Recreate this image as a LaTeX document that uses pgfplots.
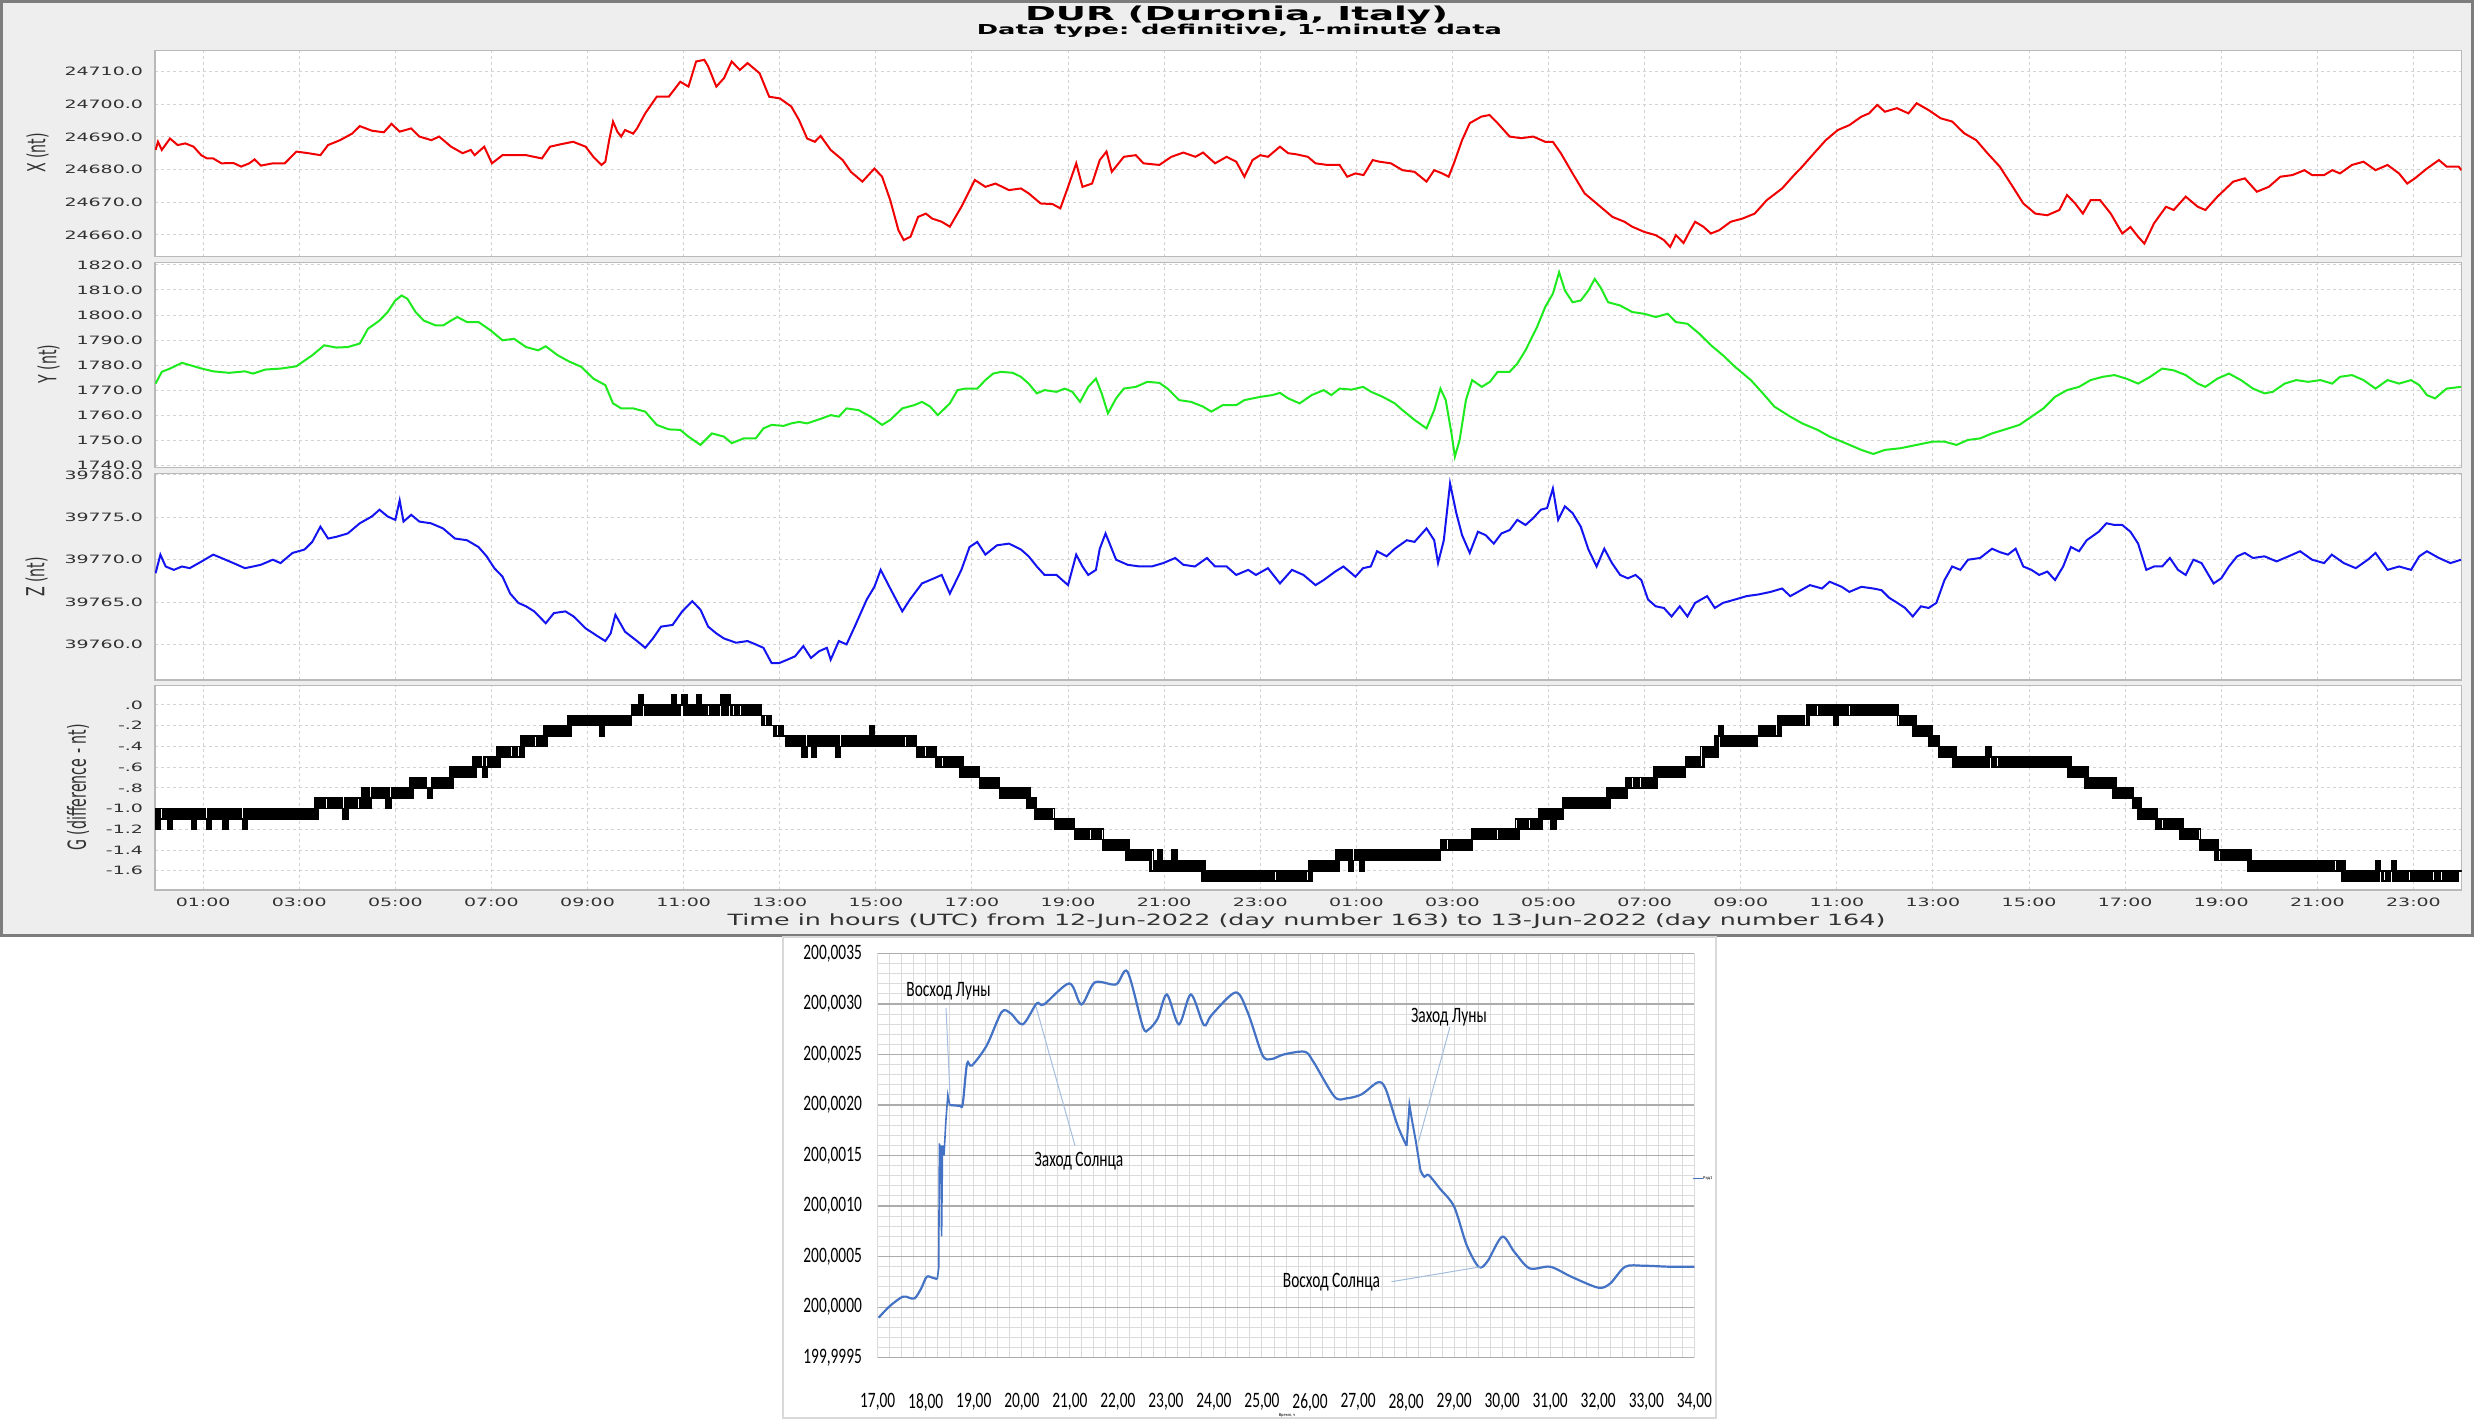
\documentclass[border=0pt]{standalone}
\usepackage{pgfplots}
\pgfplotsset{compat=1.18}
\usepackage{pgfplotstable}
\usepackage{graphicx}
\usepackage{fontspec}
\setmainfont{DejaVu Sans}
\newfontfamily\carlito{Carlito}
\definecolor{bgray}{RGB}{238,238,238}
\definecolor{frm}{RGB}{125,125,125}
\definecolor{xred}{RGB}{240,0,0}
\definecolor{ygreen}{RGB}{30,235,30}
\definecolor{zblue}{RGB}{20,20,240}
\definecolor{xlblue}{RGB}{68,114,196}
\definecolor{lead}{RGB}{165,190,222}
\definecolor{tickc}{RGB}{50,50,50}
\pgfplotsset{
  dur/.style={
    scale only axis, width=2306.4pt, xmin=0, xmax=48, anchor=south west,
    xtick={1,3,...,47}, xticklabels={}, scaled y ticks=false, scaled x ticks=false,
    grid=major, grid style={draw=gray!35, line width=1pt, dash pattern=on 3pt off 3pt},
    axis line style={draw=gray!55, line width=1.5pt},
    major tick length=0pt,
    axis background/.style={fill=white},
    yticklabel style={font=\fontsize{11.5}{12}\selectfont, text=tickc, inner sep=0pt, anchor=east, xshift=-11.8pt, xscale=1.65},
    xticklabel style={font=\fontsize{11.5}{12}\selectfont, text=tickc, inner sep=0pt, anchor=north, yshift=-8pt, xscale=1.65},
  }
}
\pgfplotstableread[row sep=\\]{
x y\\
0.00 -1.0\\ 0.05 -1.2\\ 0.08 -1.1\\ 0.15 -1.0\\ 0.25 -1.1\\ 0.3 -1.2\\ 0.33 -1.0\\ 0.42 -1.1\\ 0.5 -1.0\\ 0.6 -1.1\\ 0.7 -1.0\\ 0.8 -1.2\\ 0.83 -1.1\\ 0.9 -1.0\\ 1.0 -1.1\\ 1.1 -1.2\\ 1.13 -1.0\\ 1.22 -1.1\\ 1.3 -1.0\\ 1.4 -1.1\\ 1.45 -1.2\\ 1.48 -1.0\\ 1.55 -1.1\\ 1.65 -1.0\\ 1.75 -1.1\\ 1.85 -1.2\\ 1.88 -1.0\\ 1.95 -1.1\\ 2.05 -1.0\\ 2.15 -1.1\\ 2.25 -1.0\\ 2.35 -1.1\\ 2.45 -1.0\\ 2.55 -1.1\\ 2.65 -1.0\\ 2.75 -1.1\\ 2.85 -1.0\\ 2.95 -1.1\\ 3.05 -1.0\\ 3.15 -1.1\\ 3.25 -1.0\\ 3.3 -1.1\\
3.36 -0.9\\ 3.45 -1.0\\ 3.55 -0.9\\ 3.65 -1.0\\ 3.75 -0.9\\ 3.85 -1.0\\ 3.95 -1.1\\ 3.98 -0.9\\ 4.05 -1.0\\ 4.15 -0.9\\ 4.25 -1.0\\
4.34 -0.8\\ 4.43 -1.0\\ 4.46 -0.9\\ 4.55 -0.8\\ 4.65 -0.9\\ 4.75 -0.8\\ 4.84 -1.0\\ 4.87 -0.9\\ 4.95 -0.8\\ 5.05 -0.9\\ 5.15 -0.8\\ 5.25 -0.9\\
5.33 -0.7\\ 5.42 -0.8\\ 5.5 -0.7\\ 5.6 -0.8\\ 5.7 -0.9\\ 5.73 -0.8\\ 5.8 -0.7\\ 5.9 -0.8\\ 6.0 -0.7\\ 6.08 -0.8\\
6.16 -0.6\\ 6.25 -0.7\\ 6.35 -0.6\\ 6.45 -0.7\\ 6.55 -0.6\\ 6.6 -0.7\\
6.65 -0.5\\ 6.75 -0.6\\ 6.85 -0.7\\ 6.88 -0.5\\ 6.95 -0.6\\ 7.05 -0.5\\ 7.1 -0.6\\
7.14 -0.4\\ 7.22 -0.5\\ 7.3 -0.4\\ 7.4 -0.5\\ 7.5 -0.4\\ 7.58 -0.5\\
7.64 -0.3\\ 7.72 -0.4\\ 7.8 -0.3\\ 7.9 -0.4\\ 8.0 -0.3\\ 8.07 -0.4\\
8.13 -0.2\\ 8.22 -0.3\\ 8.3 -0.2\\ 8.4 -0.3\\ 8.5 -0.2\\ 8.57 -0.3\\
8.63 -0.1\\ 8.72 -0.2\\ 8.8 -0.1\\ 8.9 -0.2\\ 9.0 -0.1\\ 9.1 -0.2\\ 9.2 -0.1\\ 9.29 -0.3\\ 9.32 -0.1\\ 9.4 -0.2\\ 9.5 -0.1\\ 9.6 -0.2\\ 9.7 -0.1\\ 9.8 -0.2\\ 9.88 -0.1\\
9.95 0.0\\ 10.05 -0.1\\ 10.1 0.1\\ 10.13 0.0\\ 10.22 -0.1\\ 10.3 0.0\\ 10.4 -0.1\\ 10.5 0.0\\ 10.6 -0.1\\ 10.7 0.0\\ 10.78 0.1\\ 10.81 -0.1\\ 10.9 0.0\\ 11.0 0.1\\ 11.03 -0.1\\ 11.1 0.0\\ 11.2 -0.1\\ 11.3 0.1\\ 11.33 0.0\\ 11.42 -0.1\\ 11.5 0.0\\ 11.6 -0.1\\ 11.7 0.0\\ 11.8 0.1\\ 11.83 -0.1\\ 11.9 0.1\\ 11.93 0.0\\ 12.02 -0.1\\ 12.1 0.0\\ 12.2 -0.1\\ 12.3 0.0\\ 12.4 -0.1\\ 12.5 0.0\\
12.58 -0.1\\ 12.65 -0.2\\ 12.72 -0.1\\ 12.78 -0.2\\
12.83 -0.2\\ 12.9 -0.3\\ 12.97 -0.2\\ 13.03 -0.3\\
13.08 -0.3\\ 13.17 -0.4\\ 13.25 -0.3\\ 13.35 -0.4\\ 13.45 -0.3\\ 13.5 -0.5\\ 13.53 -0.4\\ 13.62 -0.3\\ 13.7 -0.5\\ 13.73 -0.3\\ 13.82 -0.4\\ 13.9 -0.3\\ 14.0 -0.4\\ 14.1 -0.3\\ 14.2 -0.5\\ 14.23 -0.4\\ 14.32 -0.3\\ 14.4 -0.4\\ 14.5 -0.3\\ 14.6 -0.4\\ 14.7 -0.3\\ 14.8 -0.4\\ 14.9 -0.2\\ 14.93 -0.3\\ 15.0 -0.4\\ 15.1 -0.3\\ 15.2 -0.4\\ 15.3 -0.3\\ 15.4 -0.4\\ 15.5 -0.3\\ 15.6 -0.4\\ 15.7 -0.3\\ 15.8 -0.4\\
15.88 -0.5\\ 15.96 -0.4\\ 16.05 -0.5\\ 16.13 -0.4\\ 16.22 -0.5\\
16.29 -0.6\\ 16.37 -0.5\\ 16.45 -0.6\\ 16.55 -0.5\\ 16.65 -0.6\\ 16.72 -0.5\\
16.78 -0.7\\ 16.86 -0.6\\ 16.95 -0.7\\ 17.05 -0.6\\ 17.12 -0.7\\
17.19 -0.8\\ 17.27 -0.7\\ 17.35 -0.8\\ 17.45 -0.7\\ 17.53 -0.8\\
17.61 -0.9\\ 17.7 -0.8\\ 17.8 -0.9\\ 17.9 -0.8\\ 18.0 -0.9\\ 18.1 -0.8\\
18.18 -1.0\\ 18.25 -0.9\\ 18.3 -1.0\\
18.35 -1.1\\ 18.42 -1.0\\ 18.5 -1.1\\ 18.6 -1.0\\ 18.68 -1.1\\
18.76 -1.2\\ 18.84 -1.1\\ 18.92 -1.2\\ 19.0 -1.1\\ 19.1 -1.2\\
19.17 -1.3\\ 19.25 -1.2\\ 19.35 -1.3\\ 19.45 -1.2\\ 19.55 -1.3\\ 19.65 -1.2\\ 19.7 -1.3\\
19.75 -1.4\\ 19.83 -1.3\\ 19.92 -1.4\\ 20.0 -1.3\\ 20.1 -1.4\\ 20.18 -1.3\\
20.24 -1.5\\ 20.32 -1.4\\ 20.42 -1.5\\ 20.5 -1.4\\ 20.6 -1.5\\ 20.68 -1.4\\
20.74 -1.6\\ 20.82 -1.5\\ 20.9 -1.4\\ 20.93 -1.6\\ 21.0 -1.5\\ 21.1 -1.6\\ 21.2 -1.4\\ 21.23 -1.5\\ 21.3 -1.6\\ 21.4 -1.5\\ 21.5 -1.6\\ 21.6 -1.5\\ 21.7 -1.6\\ 21.76 -1.5\\
21.81 -1.7\\ 21.9 -1.6\\ 22.0 -1.7\\ 22.1 -1.6\\ 22.2 -1.7\\ 22.3 -1.6\\ 22.4 -1.7\\ 22.5 -1.6\\ 22.6 -1.7\\ 22.7 -1.6\\ 22.8 -1.7\\ 22.9 -1.6\\ 23.0 -1.7\\ 23.1 -1.6\\ 23.2 -1.7\\ 23.3 -1.6\\ 23.4 -1.7\\ 23.5 -1.6\\ 23.6 -1.7\\ 23.7 -1.6\\ 23.8 -1.7\\ 23.9 -1.6\\ 24.0 -1.7\\
24.05 -1.5\\ 24.12 -1.6\\ 24.2 -1.5\\ 24.3 -1.6\\ 24.4 -1.5\\ 24.5 -1.6\\ 24.6 -1.4\\ 24.68 -1.5\\ 24.78 -1.4\\ 24.88 -1.6\\ 24.91 -1.5\\ 25.0 -1.4\\ 25.1 -1.6\\ 25.13 -1.4\\ 25.22 -1.5\\ 25.32 -1.4\\ 25.42 -1.5\\ 25.52 -1.4\\ 25.62 -1.5\\ 25.72 -1.4\\ 25.82 -1.5\\ 25.92 -1.4\\ 26.02 -1.5\\ 26.12 -1.4\\ 26.22 -1.5\\ 26.32 -1.4\\ 26.42 -1.5\\ 26.52 -1.4\\ 26.62 -1.5\\ 26.72 -1.4\\
26.8 -1.3\\ 26.88 -1.4\\ 26.97 -1.3\\ 27.07 -1.4\\ 27.17 -1.3\\ 27.27 -1.4\\ 27.37 -1.3\\
27.44 -1.2\\ 27.52 -1.3\\ 27.62 -1.2\\ 27.72 -1.3\\ 27.82 -1.2\\ 27.92 -1.3\\ 28.02 -1.2\\ 28.12 -1.3\\ 28.22 -1.2\\ 28.3 -1.3\\
28.35 -1.1\\ 28.43 -1.2\\ 28.52 -1.1\\ 28.62 -1.2\\ 28.72 -1.1\\ 28.8 -1.2\\
28.84 -1.0\\ 28.92 -1.1\\ 29.0 -1.0\\ 29.09 -1.2\\ 29.12 -1.0\\ 29.2 -1.1\\ 29.28 -1.0\\
29.34 -0.9\\ 29.42 -1.0\\ 29.52 -0.9\\ 29.62 -1.0\\ 29.72 -0.9\\ 29.82 -1.0\\ 29.92 -0.9\\ 30.02 -1.0\\ 30.12 -0.9\\ 30.2 -1.0\\
30.24 -0.8\\ 30.32 -0.9\\ 30.42 -0.8\\ 30.52 -0.9\\ 30.6 -0.8\\
30.65 -0.7\\ 30.73 -0.8\\ 30.83 -0.7\\ 30.93 -0.8\\ 31.03 -0.7\\ 31.13 -0.8\\
31.23 -0.6\\ 31.31 -0.7\\ 31.41 -0.6\\ 31.51 -0.7\\ 31.61 -0.6\\ 31.71 -0.7\\ 31.81 -0.6\\
31.89 -0.5\\ 31.97 -0.6\\ 32.05 -0.5\\ 32.13 -0.6\\
32.2 -0.4\\ 32.28 -0.5\\ 32.36 -0.4\\ 32.44 -0.5\\
32.5 -0.3\\ 32.58 -0.2\\ 32.61 -0.4\\ 32.7 -0.3\\ 32.8 -0.4\\ 32.9 -0.3\\ 33.0 -0.4\\ 33.1 -0.3\\ 33.2 -0.4\\ 33.3 -0.3\\
33.4 -0.2\\ 33.48 -0.3\\ 33.58 -0.2\\ 33.68 -0.3\\
33.8 -0.1\\ 33.88 -0.2\\ 33.98 -0.1\\ 34.08 -0.2\\ 34.18 -0.1\\ 34.28 -0.2\\
34.4 0.0\\ 34.48 -0.1\\ 34.58 0.0\\ 34.68 -0.1\\ 34.78 0.0\\ 34.88 -0.1\\ 34.97 -0.2\\ 35.0 0.0\\ 35.08 -0.1\\ 35.18 0.0\\ 35.28 -0.1\\ 35.38 0.0\\ 35.48 -0.1\\ 35.58 0.0\\ 35.68 -0.1\\ 35.78 0.0\\ 35.88 -0.1\\ 35.98 0.0\\ 36.08 -0.1\\ 36.18 0.0\\ 36.25 -0.1\\
36.3 -0.2\\ 36.38 -0.1\\ 36.47 -0.2\\ 36.55 -0.1\\
36.62 -0.3\\ 36.7 -0.2\\ 36.78 -0.3\\ 36.87 -0.2\\
36.95 -0.4\\ 37.03 -0.3\\ 37.1 -0.4\\
37.15 -0.5\\ 37.23 -0.4\\ 37.32 -0.5\\ 37.4 -0.4\\
37.45 -0.6\\ 37.55 -0.5\\ 37.65 -0.6\\ 37.75 -0.5\\ 37.85 -0.6\\ 37.95 -0.5\\ 38.05 -0.6\\ 38.14 -0.4\\ 38.17 -0.5\\ 38.26 -0.6\\ 38.36 -0.5\\ 38.46 -0.6\\ 38.56 -0.5\\ 38.66 -0.6\\ 38.76 -0.5\\ 38.86 -0.6\\ 38.96 -0.5\\ 39.06 -0.6\\ 39.16 -0.5\\ 39.26 -0.6\\ 39.36 -0.5\\ 39.46 -0.6\\ 39.56 -0.5\\ 39.66 -0.6\\ 39.76 -0.5\\
39.85 -0.7\\ 39.93 -0.6\\ 40.02 -0.7\\ 40.1 -0.6\\
40.2 -0.8\\ 40.28 -0.7\\ 40.38 -0.8\\ 40.48 -0.7\\ 40.58 -0.8\\ 40.68 -0.7\\
40.78 -0.9\\ 40.86 -0.8\\ 40.95 -0.9\\ 41.05 -0.8\\ 41.13 -0.9\\
41.19 -1.0\\ 41.25 -0.9\\
41.3 -1.1\\ 41.38 -1.0\\ 41.47 -1.1\\ 41.56 -1.0\\ 41.63 -1.1\\
41.68 -1.2\\ 41.76 -1.1\\ 41.85 -1.2\\ 41.95 -1.1\\ 42.05 -1.2\\ 42.13 -1.1\\
42.18 -1.3\\ 42.26 -1.2\\ 42.35 -1.3\\ 42.45 -1.2\\ 42.53 -1.3\\
42.59 -1.4\\ 42.67 -1.3\\ 42.76 -1.4\\ 42.84 -1.3\\
42.9 -1.5\\ 42.98 -1.4\\ 43.07 -1.5\\ 43.17 -1.4\\ 43.27 -1.5\\ 43.37 -1.4\\ 43.47 -1.5\\ 43.54 -1.4\\
43.58 -1.6\\ 43.66 -1.5\\ 43.76 -1.6\\ 43.86 -1.5\\ 43.96 -1.6\\ 44.06 -1.5\\ 44.16 -1.6\\ 44.26 -1.5\\ 44.36 -1.6\\ 44.46 -1.5\\ 44.56 -1.6\\ 44.66 -1.5\\ 44.76 -1.6\\ 44.86 -1.5\\ 44.96 -1.6\\ 45.06 -1.5\\ 45.16 -1.6\\ 45.26 -1.5\\ 45.36 -1.6\\ 45.46 -1.5\\
45.55 -1.7\\ 45.65 -1.6\\ 45.75 -1.7\\ 45.85 -1.6\\ 45.95 -1.7\\ 46.05 -1.6\\ 46.15 -1.7\\ 46.25 -1.5\\ 46.28 -1.6\\ 46.38 -1.7\\ 46.48 -1.6\\ 46.58 -1.5\\ 46.61 -1.7\\ 46.7 -1.6\\ 46.8 -1.7\\ 46.9 -1.6\\ 47.0 -1.7\\ 47.1 -1.6\\ 47.2 -1.7\\ 47.3 -1.6\\ 47.4 -1.7\\ 47.5 -1.6\\ 47.6 -1.7\\ 47.7 -1.6\\ 47.8 -1.7\\ 47.9 -1.6\\ 48.0 -1.6\\
}\Gdata
\begin{document}
\begin{tikzpicture}
\fill[white] (0pt,0pt) rectangle (2477pt,-1420pt);
\draw[frm, line width=3pt, fill=bgray] (1.5pt,-1.5pt) rectangle (2472.5pt,-935pt);
\draw[gray!30, line width=1.5pt, fill=white] (783pt,-937pt) rectangle (1716pt,-1418pt);

% titles
\node[anchor=base, inner sep=0pt] at (1236.6pt,-20.7pt) {\resizebox{423pt}{\height}{\fontsize{19.2}{20}\selectfont\bfseries DUR (Duronia, Italy)}};
\node[anchor=base, inner sep=0pt] at (1239.4pt,-34.3pt) {\resizebox{525pt}{\height}{\fontsize{13.7}{14}\selectfont\bfseries Data type: definitive, 1-minute data}};
\node[anchor=base, inner sep=0pt, text=tickc] at (1306.5pt,-925.7pt) {\resizebox{1158pt}{\height}{\fontsize{15.5}{16}\selectfont Time in hours (UTC) from 12-Jun-2022 (day number 163) to 13-Jun-2022 (day number 164)}};
\node[inner sep=0pt, text=tickc] at (37.5pt,-153pt) {\scalebox{1.75}[1]{\rotatebox{90}{\fontsize{14.2}{15}\selectfont X (nt)}}};
\node[inner sep=0pt, text=tickc] at (48.5pt,-364pt) {\scalebox{1.75}[1]{\rotatebox{90}{\fontsize{14.2}{15}\selectfont Y (nt)}}};
\node[inner sep=0pt, text=tickc] at (36.5pt,-577pt) {\scalebox{1.75}[1]{\rotatebox{90}{\fontsize{14.2}{15}\selectfont Z (nt)}}};
\node[inner sep=0pt, text=tickc] at (78pt,-787.5pt) {\scalebox{1.75}[1]{\rotatebox{90}{\fontsize{14.2}{15}\selectfont G (difference - nt)}}};

% ---------------- X panel
\begin{axis}[dur, at={(155.1pt,-256.7pt)}, height=206pt, ymin=24653.3, ymax=24716.4,
  ytick={24660,24670,24680,24690,24700,24710},
  yticklabels={24660.0,24670.0,24680.0,24690.0,24700.0,24710.0}]
\addplot[xred, line width=2pt] coordinates {
(0.01,24686.0)(0.06,24688.5)(0.14,24686.0)(0.31,24689.5)(0.47,24687.5)(0.63,24688.0)(0.80,24687.0)(0.96,24684.4)
(1.08,24683.4)(1.21,24683.4)(1.38,24681.9)(1.63,24682.0)(1.79,24680.9)(1.96,24681.9)(2.07,24683.1)(2.20,24681.2)
(2.45,24681.9)(2.70,24681.9)(2.94,24685.5)(3.19,24685.0)(3.44,24684.4)(3.60,24687.5)(3.85,24689.0)(4.10,24691.0)
(4.26,24693.3)(4.51,24691.9)(4.76,24691.4)(4.92,24694.0)(5.09,24691.6)(5.33,24692.6)(5.50,24690.1)(5.75,24689.0)
(5.91,24690.1)(6.16,24687.0)(6.40,24685.0)(6.57,24686.0)(6.65,24684.4)(6.85,24687.0)(7.01,24681.9)(7.23,24684.4)
(7.47,24684.4)(7.72,24684.4)(8.05,24683.4)(8.22,24687.0)(8.46,24687.8)(8.70,24688.5)(8.96,24687.0)(9.12,24683.9)
(9.29,24681.4)(9.37,24682.4)(9.45,24689.0)(9.53,24694.7)(9.62,24691.6)(9.70,24690.1)(9.78,24692.1)(9.95,24691.0)
(10.03,24692.6)(10.20,24697.2)(10.44,24702.3)(10.69,24702.3)(10.93,24706.9)(11.10,24705.4)(11.26,24713.1)(11.43,24713.6)
(11.51,24711.6)(11.68,24705.4)(11.84,24708.0)(12.00,24713.1)(12.17,24710.5)(12.33,24712.6)(12.58,24709.5)(12.78,24702.3)
(13.00,24701.8)(13.24,24699.3)(13.40,24695.2)(13.57,24689.5)(13.73,24688.5)(13.85,24690.3)(14.06,24686.0)(14.31,24682.9)
(14.48,24679.3)(14.72,24676.3)(14.97,24680.3)(15.13,24677.8)(15.30,24670.6)(15.47,24661.4)(15.58,24658.4)(15.72,24659.4)
(15.88,24665.5)(16.04,24666.5)(16.17,24665.0)(16.37,24664.0)(16.54,24662.5)(16.78,24668.6)(17.06,24676.8)(17.28,24674.7)
(17.49,24675.7)(17.77,24673.7)(18.02,24674.2)(18.18,24672.7)(18.43,24669.6)(18.68,24669.4)(18.84,24668.1)(19.00,24674.7)
(19.17,24681.9)(19.30,24674.7)(19.50,24675.7)(19.66,24682.9)(19.80,24685.5)(19.91,24679.3)(20.16,24683.9)(20.41,24684.4)
(20.57,24681.9)(20.90,24681.4)(21.15,24683.9)(21.40,24685.2)(21.65,24683.9)(21.81,24685.2)(22.06,24681.9)(22.30,24683.9)
(22.50,24682.4)(22.67,24677.8)(22.84,24682.9)(23.00,24684.4)(23.16,24683.9)(23.41,24687.0)(23.58,24685.0)(23.74,24684.7)
(23.99,24683.9)(24.15,24681.9)(24.40,24681.4)(24.65,24681.4)(24.81,24677.8)(24.98,24678.8)(25.15,24678.3)(25.34,24682.9)
(25.48,24682.4)(25.72,24681.9)(25.96,24679.8)(26.21,24679.3)(26.46,24676.3)(26.62,24679.8)(26.79,24678.8)(26.92,24677.8)
(27.03,24681.9)(27.20,24689.0)(27.36,24694.2)(27.60,24696.2)(27.77,24696.7)(27.94,24694.2)(28.19,24690.1)(28.43,24689.6)
(28.68,24690.1)(28.93,24688.5)(29.09,24688.5)(29.26,24684.9)(29.50,24678.8)(29.75,24672.7)(30.08,24668.6)(30.33,24665.5)
(30.58,24664.0)(30.74,24662.5)(30.99,24660.9)(31.23,24659.9)(31.40,24658.4)(31.53,24656.3)(31.65,24659.9)(31.81,24657.5)
(31.93,24660.9)(32.05,24664.0)(32.22,24662.5)(32.38,24660.4)(32.55,24661.4)(32.79,24664.0)(33.04,24665.0)(33.29,24666.5)
(33.54,24670.6)(33.86,24674.2)(34.11,24678.3)(34.28,24680.9)(34.52,24684.9)(34.77,24689.0)(35.02,24692.1)(35.26,24693.6)
(35.51,24696.2)(35.67,24697.2)(35.84,24699.8)(36.00,24697.7)(36.25,24698.8)(36.49,24697.2)(36.66,24700.3)(36.91,24698.2)
(37.16,24695.7)(37.40,24694.7)(37.65,24691.1)(37.90,24689.0)(38.14,24684.9)(38.39,24680.9)(38.64,24675.2)(38.88,24669.6)
(39.13,24666.5)(39.38,24666.0)(39.63,24667.6)(39.79,24672.2)(39.96,24669.6)(40.12,24666.5)(40.28,24670.6)(40.48,24670.6)
(40.70,24666.5)(40.94,24660.4)(41.11,24662.4)(41.27,24659.4)(41.40,24657.3)(41.60,24663.5)(41.85,24668.6)(42.01,24667.6)
(42.26,24671.7)(42.51,24668.6)(42.67,24667.6)(42.92,24671.7)(43.25,24676.3)(43.49,24677.3)(43.74,24673.2)(43.99,24674.7)
(44.23,24677.8)(44.48,24678.3)(44.73,24679.8)(44.89,24678.3)(45.14,24678.3)(45.31,24679.8)(45.47,24678.8)(45.72,24681.4)
(45.96,24682.4)(46.21,24679.8)(46.46,24681.4)(46.70,24678.8)(46.87,24675.7)(47.03,24677.3)(47.28,24680.3)(47.53,24682.9)
(47.69,24680.9)(47.94,24680.9)(48.00,24679.8)};
\end{axis}

% ---------------- Y panel
\begin{axis}[dur, at={(155.1pt,-467.7pt)}, height=205pt, ymin=1739.0, ymax=1820.9,
  ytick={1740,1750,1760,1770,1780,1790,1800,1810,1820},
  yticklabels={1740.0,1750.0,1760.0,1770.0,1780.0,1790.0,1800.0,1810.0,1820.0}]
\addplot[ygreen, line width=2pt] coordinates {
(0.01,1772.6)(0.14,1777.3)(0.31,1778.6)(0.56,1780.9)(0.72,1780.0)(0.97,1778.6)(1.21,1777.5)(1.54,1776.9)
(1.87,1777.5)(2.04,1776.6)(2.29,1778.2)(2.61,1778.6)(2.94,1779.5)(3.02,1780.6)(3.27,1783.9)(3.52,1787.9)
(3.77,1787.0)(4.01,1787.2)(4.26,1788.6)(4.43,1794.5)(4.67,1797.8)(4.84,1801.2)(5.00,1805.8)(5.13,1807.8)
(5.25,1806.5)(5.42,1801.2)(5.59,1797.8)(5.83,1795.9)(6.00,1795.9)(6.16,1797.8)(6.29,1799.2)(6.49,1797.2)
(6.73,1797.2)(6.98,1793.9)(7.23,1789.9)(7.47,1790.5)(7.72,1787.2)(7.97,1785.9)(8.13,1787.5)(8.38,1783.9)
(8.63,1781.3)(8.87,1779.3)(9.12,1774.6)(9.37,1772.0)(9.53,1764.7)(9.70,1762.7)(9.95,1762.7)(10.20,1761.4)
(10.44,1756.1)(10.69,1754.3)(10.93,1754.1)(11.10,1751.4)(11.35,1748.1)(11.59,1752.7)(11.84,1751.4)(12.00,1748.8)
(12.25,1750.7)(12.50,1750.7)(12.66,1754.7)(12.83,1756.1)(13.08,1755.7)(13.24,1756.7)(13.40,1757.3)(13.57,1756.7)
(13.82,1758.3)(14.06,1760.0)(14.23,1759.4)(14.39,1762.7)(14.64,1762.0)(14.89,1759.4)(15.13,1756.1)(15.30,1758.1)
(15.55,1762.7)(15.80,1764.0)(15.96,1765.3)(16.13,1763.4)(16.29,1760.0)(16.54,1764.7)(16.70,1770.0)(16.86,1770.6)
(17.11,1770.6)(17.28,1774.0)(17.44,1776.6)(17.61,1777.3)(17.85,1776.9)(18.02,1775.3)(18.18,1772.6)(18.35,1768.7)
(18.51,1770.0)(18.76,1769.3)(18.93,1770.6)(19.09,1769.3)(19.25,1765.3)(19.42,1771.3)(19.58,1774.6)(19.70,1768.7)
(19.83,1760.7)(20.00,1766.7)(20.16,1770.6)(20.41,1771.3)(20.65,1773.3)(20.90,1772.9)(21.07,1770.6)(21.31,1766.0)
(21.56,1765.3)(21.81,1763.4)(21.98,1761.4)(22.22,1764.0)(22.50,1764.0)(22.67,1766.0)(23.00,1767.3)(23.25,1768.0)
(23.41,1768.9)(23.58,1766.7)(23.82,1764.7)(24.07,1768.0)(24.32,1770.0)(24.48,1768.0)(24.65,1770.6)(24.90,1770.2)
(25.14,1771.3)(25.31,1769.3)(25.55,1767.3)(25.80,1764.7)(25.96,1762.0)(26.21,1758.1)(26.46,1754.7)(26.62,1762.0)
(26.75,1770.6)(26.86,1766.0)(26.98,1752.7)(27.05,1743.4)(27.15,1750.1)(27.28,1766.0)(27.41,1774.0)(27.61,1771.3)
(27.78,1773.3)(27.94,1777.3)(28.19,1777.3)(28.35,1780.6)(28.52,1785.9)(28.76,1795.2)(28.93,1803.2)(29.09,1808.5)
(29.22,1817.1)(29.34,1809.8)(29.50,1805.1)(29.67,1805.8)(29.83,1809.8)(29.96,1814.4)(30.08,1811.1)(30.24,1805.1)
(30.49,1803.8)(30.74,1801.2)(30.99,1800.5)(31.23,1799.2)(31.48,1800.5)(31.65,1797.2)(31.89,1796.5)(32.14,1792.5)
(32.38,1787.9)(32.63,1783.9)(32.88,1779.3)(33.21,1774.0)(33.46,1768.7)(33.70,1763.4)(34.03,1759.4)(34.28,1756.7)
(34.60,1754.1)(34.85,1751.4)(35.18,1748.8)(35.51,1746.1)(35.76,1744.5)(36.00,1746.1)(36.33,1746.8)(36.66,1748.1)
(36.99,1749.4)(37.24,1749.4)(37.49,1748.1)(37.73,1750.1)(37.98,1750.7)(38.23,1752.7)(38.47,1754.1)(38.80,1756.1)
(39.05,1759.4)(39.30,1762.7)(39.54,1767.3)(39.79,1770.0)(40.04,1771.3)(40.28,1774.0)(40.53,1775.3)(40.78,1776.0)
(41.02,1774.6)(41.27,1772.6)(41.52,1775.3)(41.77,1778.6)(42.01,1777.9)(42.26,1776.0)(42.51,1772.6)(42.67,1771.3)
(42.92,1774.6)(43.16,1776.6)(43.41,1774.0)(43.66,1770.6)(43.90,1768.7)(44.07,1769.3)(44.32,1772.6)(44.56,1774.0)
(44.81,1773.3)(45.06,1774.0)(45.31,1772.6)(45.47,1775.3)(45.72,1776.0)(45.96,1774.0)(46.21,1770.6)(46.46,1774.0)
(46.70,1772.6)(46.95,1774.0)(47.12,1772.0)(47.28,1768.0)(47.45,1766.7)(47.69,1770.6)(47.99,1771.3)};
\end{axis}

% ---------------- Z panel
\begin{axis}[dur, at={(155.1pt,-680pt)}, height=206.7pt, ymin=39755.8, ymax=39780.2,
  ytick={39760,39765,39770,39775,39780},
  yticklabels={39760.0,39765.0,39770.0,39775.0,39780.0}]
\addplot[zblue, line width=2pt] coordinates {
(0.01,39768.4)(0.11,39770.6)(0.22,39769.2)(0.39,39768.8)(0.56,39769.2)(0.72,39769.0)(0.97,39769.8)(1.21,39770.6)
(1.38,39770.2)(1.63,39769.6)(1.87,39769.0)(2.04,39769.2)(2.20,39769.4)(2.45,39770.0)(2.61,39769.6)(2.86,39770.8)
(3.11,39771.2)(3.27,39772.1)(3.44,39773.9)(3.60,39772.5)(3.77,39772.7)(4.01,39773.1)(4.26,39774.3)(4.51,39775.1)
(4.67,39775.9)(4.84,39775.1)(5.00,39774.7)(5.09,39777.0)(5.17,39774.5)(5.33,39775.3)(5.50,39774.5)(5.74,39774.3)
(5.99,39773.7)(6.24,39772.5)(6.49,39772.3)(6.73,39771.5)(6.90,39770.4)(7.06,39769.0)(7.23,39768.0)(7.39,39766.0)
(7.56,39764.9)(7.72,39764.5)(7.89,39763.9)(8.13,39762.5)(8.30,39763.7)(8.54,39763.9)(8.71,39763.3)(8.96,39761.9)
(9.20,39761.0)(9.37,39760.4)(9.48,39761.3)(9.58,39763.5)(9.78,39761.5)(10.03,39760.4)(10.20,39759.6)(10.36,39760.7)
(10.53,39762.1)(10.77,39762.3)(10.97,39763.9)(11.18,39765.1)(11.35,39764.1)(11.51,39762.1)(11.68,39761.3)(11.84,39760.7)
(12.09,39760.2)(12.33,39760.4)(12.50,39760.0)(12.66,39759.6)(12.83,39757.8)(12.99,39757.8)(13.16,39758.2)(13.32,39758.6)
(13.49,39759.8)(13.65,39758.4)(13.82,39759.2)(13.98,39759.6)(14.06,39758.2)(14.23,39760.4)(14.39,39760.0)(14.56,39762.1)
(14.81,39765.3)(14.97,39766.8)(15.10,39768.8)(15.30,39766.6)(15.55,39763.9)(15.71,39765.3)(15.96,39767.2)(16.21,39767.8)
(16.37,39768.2)(16.54,39766.0)(16.78,39768.8)(16.95,39771.5)(17.11,39772.1)(17.28,39770.6)(17.52,39771.7)(17.77,39771.9)
(18.02,39771.2)(18.18,39770.4)(18.35,39769.2)(18.51,39768.2)(18.76,39768.2)(19.00,39767.0)(19.17,39770.6)(19.30,39769.2)
(19.42,39768.2)(19.58,39768.8)(19.66,39771.3)(19.78,39773.1)(20.00,39770.0)(20.24,39769.4)(20.49,39769.2)(20.74,39769.2)
(20.98,39769.6)(21.23,39770.2)(21.40,39769.4)(21.64,39769.2)(21.89,39770.2)(22.06,39769.2)(22.30,39769.2)(22.50,39768.2)
(22.75,39768.8)(22.91,39768.2)(23.16,39769.0)(23.41,39767.2)(23.66,39768.8)(23.90,39768.2)(24.15,39767.0)(24.32,39767.6)
(24.56,39768.6)(24.73,39769.2)(24.98,39768.0)(25.14,39769.0)(25.30,39769.2)(25.43,39771.0)(25.63,39770.4)(25.80,39771.3)
(26.05,39772.3)(26.21,39772.1)(26.46,39773.7)(26.62,39772.3)(26.70,39769.6)(26.82,39772.3)(26.95,39779.0)(27.08,39775.5)
(27.20,39772.9)(27.36,39770.8)(27.53,39773.3)(27.69,39772.9)(27.86,39771.9)(28.02,39773.1)(28.19,39773.5)(28.35,39774.7)
(28.52,39774.1)(28.68,39774.9)(28.84,39775.9)(28.97,39776.1)(29.09,39778.4)(29.20,39774.7)(29.34,39776.3)(29.50,39775.5)
(29.67,39773.9)(29.83,39771.2)(30.00,39769.2)(30.16,39771.3)(30.32,39769.6)(30.49,39768.2)(30.65,39767.8)(30.81,39768.2)
(30.93,39767.6)(31.07,39765.3)(31.23,39764.5)(31.40,39764.3)(31.56,39763.3)(31.73,39764.5)(31.89,39763.3)(32.05,39764.9)
(32.30,39765.7)(32.46,39764.3)(32.63,39764.9)(32.88,39765.3)(33.12,39765.7)(33.37,39765.9)(33.62,39766.2)(33.86,39766.6)
(34.03,39765.7)(34.19,39766.2)(34.44,39767.0)(34.69,39766.6)(34.85,39767.4)(35.10,39766.8)(35.26,39766.2)(35.51,39766.8)
(35.76,39766.6)(35.93,39766.4)(36.09,39765.5)(36.26,39764.9)(36.42,39764.3)(36.58,39763.3)(36.75,39764.5)(36.91,39764.3)
(37.07,39764.9)(37.24,39767.6)(37.40,39769.2)(37.57,39768.8)(37.73,39770.0)(37.98,39770.2)(38.23,39771.3)(38.39,39770.9)
(38.56,39770.6)(38.72,39771.3)(38.88,39769.2)(39.05,39768.8)(39.21,39768.2)(39.38,39768.6)(39.54,39767.6)(39.71,39769.2)
(39.87,39771.5)(40.04,39771.0)(40.20,39772.3)(40.45,39773.3)(40.61,39774.3)(40.78,39774.1)(40.94,39774.1)(41.11,39773.3)
(41.27,39771.9)(41.44,39768.8)(41.60,39769.2)(41.77,39769.2)(41.93,39770.2)(42.10,39768.8)(42.26,39768.2)(42.42,39770.0)
(42.59,39769.6)(42.84,39767.2)(43.00,39767.8)(43.16,39769.2)(43.33,39770.4)(43.49,39770.8)(43.66,39770.2)(43.90,39770.4)
(44.15,39769.8)(44.40,39770.4)(44.64,39771.0)(44.89,39770.0)(45.14,39769.6)(45.30,39770.6)(45.55,39769.6)(45.80,39769.0)
(46.05,39770.0)(46.21,39770.8)(46.46,39768.8)(46.70,39769.2)(46.95,39768.8)(47.12,39770.4)(47.28,39771.0)(47.53,39770.2)
(47.77,39769.6)(47.99,39770.0)};
\end{axis}

% ---------------- G panel
\begin{axis}[dur, at={(155.1pt,-890pt)}, height=204.3pt, ymin=-1.786, ymax=0.186,
  ytick={-1.6,-1.4,-1.2,-1.0,-0.8,-0.6,-0.4,-0.2,0},
  yticklabels={-1.6,-1.4,-1.2,-1.0,-.8,-.6,-.4,-.2,.0},
  xticklabels={01:00,03:00,05:00,07:00,09:00,11:00,13:00,15:00,17:00,19:00,21:00,23:00,01:00,03:00,05:00,07:00,09:00,11:00,13:00,15:00,17:00,19:00,21:00,23:00}]
\addplot[const plot, black, line width=1.6pt] table[x=x, y=y] {\Gdata};
\addplot[const plot, black, line width=1.6pt] table[x expr=\thisrow{x}+0.034, y=y] {\Gdata};
\addplot[const plot, black, line width=1.6pt] table[x expr=\thisrow{x}-0.034, y=y] {\Gdata};
\end{axis}

% ---------------- bottom chart
\begin{axis}[scale only axis, at={(877.7pt,-1357.7pt)}, anchor=south west, width=816.6pt, height=404.3pt,
  xmin=17, xmax=34, ymin=-5, ymax=35,
  xtick={17,18,...,34},
  xticklabels={{17,00},{18,00},{19,00},{20,00},{21,00},{22,00},{23,00},{24,00},{25,00},{26,00},{27,00},{28,00},{29,00},{30,00},{31,00},{32,00},{33,00},{34,00}},
  minor xtick={17,17.25,...,34},
  ytick={-5,0,5,10,15,20,25,30,35},
  yticklabels={{199,9995},{200,0000},{200,0005},{200,0010},{200,0015},{200,0020},{200,0025},{200,0030},{200,0035}},
  minor ytick={-5,-4,...,35},
  xminorgrids, ymajorgrids, yminorgrids,
  major grid style={draw=gray!65, line width=1.2pt},
  minor grid style={draw=gray!28, line width=1pt},
  axis line style={draw=none},
  major tick length=0pt, minor tick length=0pt,
  tick label style={font=\carlito\fontsize{22}{24}\selectfont, inner sep=0pt},
  xticklabel style={anchor=north, yshift=-35.3pt, xscale=0.7},
  yticklabel style={anchor=east, xshift=-15.7pt, xscale=0.7},
]
\addplot[xlblue, line width=2.2pt, smooth] coordinates {
(17.02,-1.04)(17.25,0.1)(17.52,1.04)(17.65,0.94)(17.77,0.87)(17.9,1.8)(18.02,3.0)(18.15,2.9)(18.24,2.78)};
\addplot[xlblue, line width=1.6pt] coordinates {
(18.24,2.78)(18.27,3.9)(18.285,16.2)(18.3,13.0)(18.315,16.0)(18.33,7.0)(18.35,16.0)(18.38,15.0)(18.42,18.5)(18.46,21.0)(18.5,20.0)};
\addplot[xlblue, line width=2.2pt, smooth] coordinates {
(18.5,20.0)(18.71,19.93)(18.77,20.1)(18.86,24.1)(18.96,23.9)(19.27,25.9)(19.58,29.2)(19.77,29.06)(20.02,27.98)(20.31,30.05)(20.46,29.95)(20.99,32.03)(21.24,29.95)(21.52,32.13)(21.96,31.93)(22.2,33.19)(22.52,27.75)(22.64,27.48)(22.83,28.57)(23.02,30.94)(23.27,27.98)(23.52,30.94)(23.79,27.91)(23.95,28.9)(24.45,31.14)(24.7,29.2)(25.01,24.94)(25.2,24.55)(25.45,25.0)(25.89,25.27)(26.07,24.28)(26.51,20.82)(26.76,20.66)(27.07,21.05)(27.41,22.24)(27.57,21.64)(27.82,18.0)(28.01,15.97)};
\addplot[xlblue, line width=2pt] coordinates {
(28.01,15.97)(28.07,20.0)(28.13,18.3)(28.2,16.5)(28.3,13.5)};
\addplot[xlblue, line width=2.2pt, smooth] coordinates {
(28.3,13.5)(28.38,12.9)(28.47,13.07)(28.7,11.75)(29.0,9.94)(29.26,6.15)(29.51,4.0)(29.69,4.5)(30.0,6.97)(30.25,5.49)(30.57,3.84)(31.0,4.0)(31.44,3.01)(32.0,1.93)(32.25,2.35)(32.56,4.0)(32.94,4.1)(33.5,4.0)(34.0,4.0)};
\end{axis}

% annotations of the bottom chart
\draw[lead, line width=1pt] (946pt,-1008pt) -- (950pt,-1095pt);
\draw[lead, line width=1pt] (1075pt,-1145.7pt) -- (1036pt,-1006.7pt);
\draw[lead, line width=1pt] (1450pt,-1026.7pt) -- (1418.5pt,-1141.7pt);
\draw[lead, line width=1pt] (1391.5pt,-1281.7pt) -- (1481.4pt,-1266.7pt);
\node[inner sep=0pt, xscale=0.7] at (948.5pt,-991pt) {\carlito\fontsize{22}{24}\selectfont Восход Луны};
\node[inner sep=0pt, xscale=0.7] at (1079pt,-1160.7pt) {\carlito\fontsize{22}{24}\selectfont Заход Солнца};
\node[inner sep=0pt, xscale=0.7] at (1449pt,-1016.7pt) {\carlito\fontsize{22}{24}\selectfont Заход Луны};
\node[inner sep=0pt, xscale=0.7] at (1331.5pt,-1281.7pt) {\carlito\fontsize{22}{24}\selectfont Восход Солнца};
\draw[xlblue, line width=1pt] (1692.7pt,-1178.3pt) -- (1702.7pt,-1178.3pt);
\node[inner sep=0pt, anchor=west] at (1703pt,-1178.3pt) {\carlito\fontsize{4.5}{5}\selectfont Ряд1};
\node[inner sep=0pt] at (1287pt,-1415pt) {\carlito\fontsize{4.5}{5}\selectfont Время, ч};
\end{tikzpicture}
\end{document}
